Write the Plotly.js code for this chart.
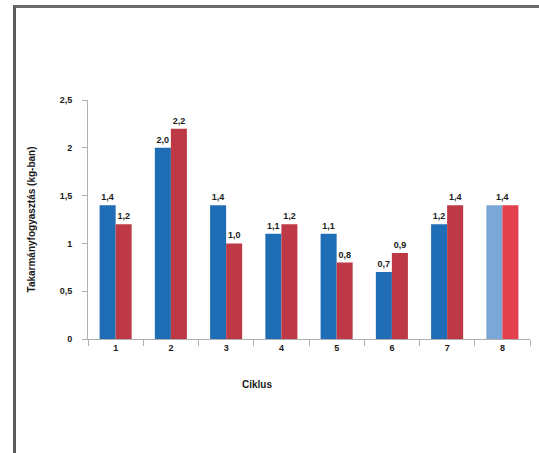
<!DOCTYPE html>
<html>
<head>
<meta charset="utf-8">
<script src="https://cdn.plot.ly/plotly-3.0.1.min.js"></script>
<style>
html,body{margin:0;padding:0;background:#fff;}
#wrap{position:relative;width:539px;height:453px;overflow:hidden;}
#chart{width:539px;height:453px;}
#frame{position:absolute;left:13px;top:5px;width:560px;height:446px;border-left:3px solid #5a5a5a;border-top:3px solid #6a6a6a;border-bottom:1px solid #d0d0d0;pointer-events:none;}
</style>
</head>
<body>
<div id="wrap"><div id="chart"></div><div id="frame"></div></div>
<script>
var cycles = ['1','2','3','4','5','6','7','8'];
var seriesA = [1.4, 2.0, 1.4, 1.1, 1.1, 0.7, 1.2, 1.4];
var seriesB = [1.2, 2.2, 1.0, 1.2, 0.8, 0.9, 1.4, 1.4];
var yTicks = [0, 0.5, 1, 1.5, 2, 2.5];
var yTickText = ['0', '0,5', '1', '1,5', '2', '2,5'];
var xTitle = 'Ciklus';
var yTitle = 'Takarmányfogyasztás (kg-ban)';

function fmt(v){ return v.toFixed(1).replace('.', ','); }
var lastIdx = cycles.length - 1;
var textA = seriesA.map(function(v,i){ return i === lastIdx ? '' : fmt(v); });
var textB = seriesB.map(function(v,i){ return i === lastIdx ? '' : fmt(v); });
var colA = cycles.map(function(c,i){ return i === lastIdx ? '#7ba7d6' : '#1f6db5'; });
var colB = cycles.map(function(c,i){ return i === lastIdx ? '#e2404d' : '#bd3946'; });

var labelFont = {family: 'Liberation Sans, Arial, sans-serif', size: 9, color: '#1a1a1a', weight: 'bold'};

var traces = [
  {type:'bar', x:cycles, y:seriesA, marker:{color:colA}, text:textA, textposition:'outside',
   textfont:labelFont, cliponaxis:false, hoverinfo:'none'},
  {type:'bar', x:cycles, y:seriesB, marker:{color:colB}, text:textB, textposition:'outside',
   textfont:labelFont, cliponaxis:false, hoverinfo:'none'}
];

var layout = {
  width:539, height:453,
  margin:{l:88, r:9, t:100, b:114},
  paper_bgcolor:'#ffffff', plot_bgcolor:'#ffffff',
  showlegend:false,
  barmode:'group', bargap:0.42, bargroupgap:0,
  font:{family:'Liberation Sans, Arial, sans-serif', size:9, color:'#1a1a1a'},
  xaxis:{
    type:'category', range:[-0.5, 7.5],
    showline:true, linecolor:'#b0b0b0', linewidth:1,
    ticks:'outside', tickson:'boundaries', ticklen:6, tickcolor:'#b0b0b0',
    showgrid:false, zeroline:false,
    tickfont:{size:9, color:'#1a1a1a', weight:'bold'}
  },
  yaxis:{
    range:[0, 2.5], tickvals:yTicks, ticktext:yTickText,
    showline:true, linecolor:'#b0b0b0', linewidth:1,
    ticks:'outside', ticklen:5, tickcolor:'#b0b0b0', ticklabelstandoff:8,
    showgrid:false, zeroline:false,
    tickfont:{size:9, color:'#1a1a1a', weight:'bold'},
    title:{text:yTitle, font:{size:10, color:'#1a1a1a', weight:'bold'}, standoff:22}
  },
  annotations:[
    {x:lastIdx, y:seriesA[lastIdx], xref:'x', yref:'y', text:fmt(seriesA[lastIdx]),
     showarrow:false, yanchor:'bottom', yshift:1, font:labelFont},
    {x:0.382, y:-0.19, xref:'paper', yref:'paper', text:xTitle, showarrow:false,
     xanchor:'center', yanchor:'middle', font:{size:10, color:'#1a1a1a', weight:'bold'}}
  ]
};

Plotly.newPlot('chart', traces, layout, {displayModeBar:false, staticPlot:true});
</script>
</body>
</html>
